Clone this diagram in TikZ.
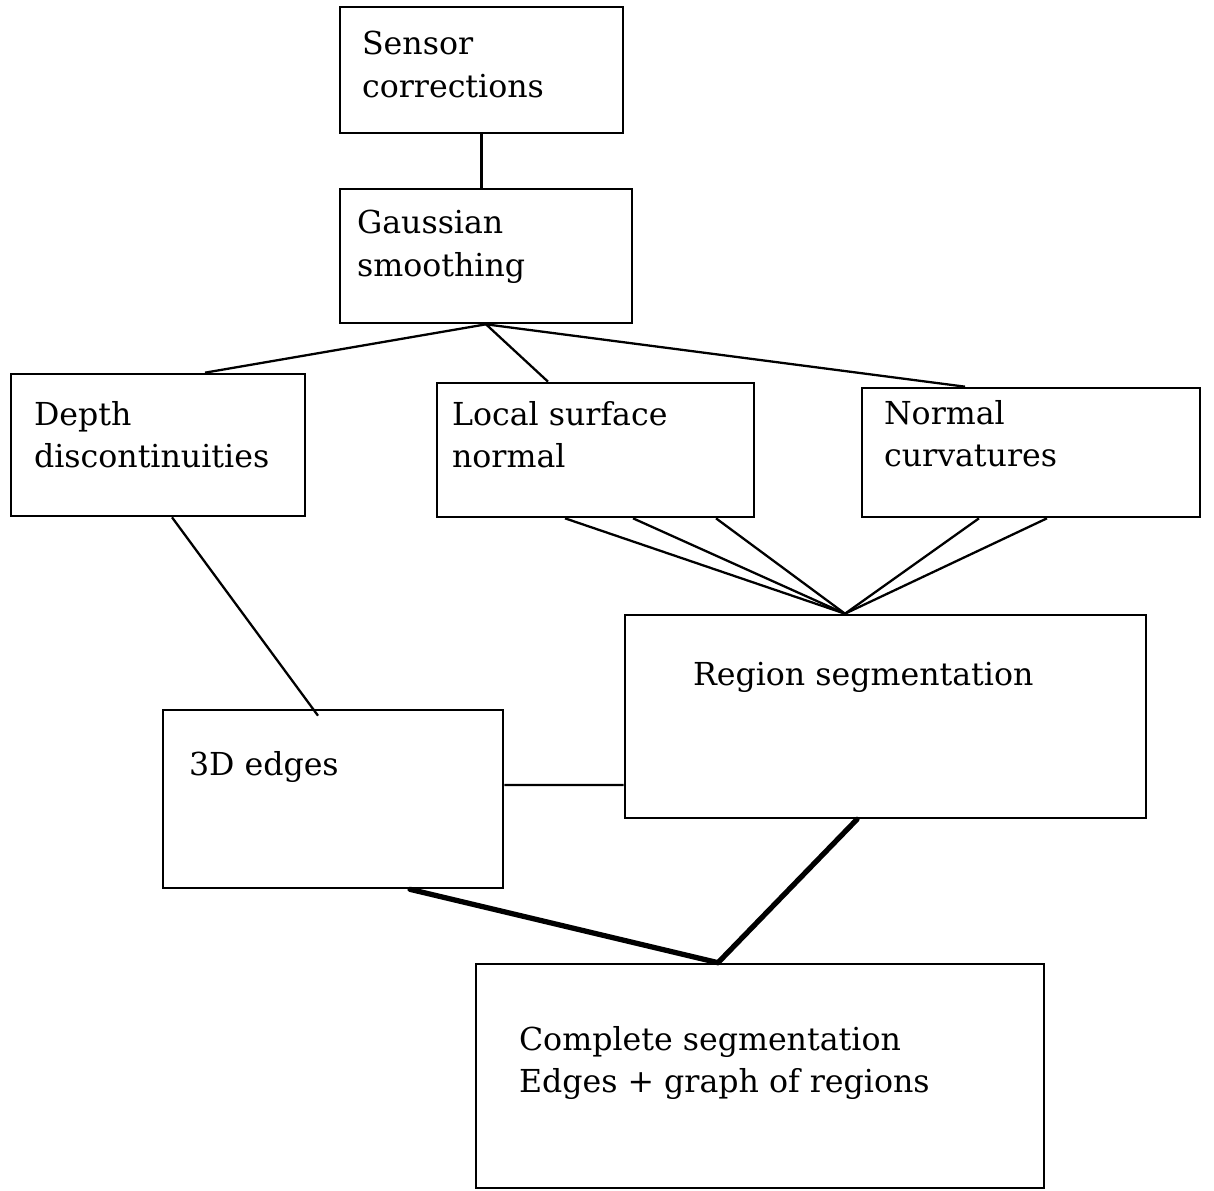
\documentclass[tikz,border=0pt]{standalone}
\usepackage{fontspec}
\setmainfont{DejaVu Serif}
\usepackage{tikz}

\begin{document}
\begin{tikzpicture}[
	blockbox/.style={shape=rectangle, draw, line width=1.5pt, inner sep=0},
	boxtext/.style={anchor=north west, inner sep=0, align=left, font=\fontsize{18}{24.4}\selectfont},
	wire/.style={line width=1.3pt},
	heavywire/.style={line width=3pt, line cap=round}]
	\useasboundingbox (0, 0) rectangle (24.28, 23.8);
	% Boxes and texts:
	\node[blockbox, minimum width=5.66cm, minimum height=2.52cm](Rect1) at (9.63, 22.40){} node[boxtext] at ([xshift=0.46cm, yshift=-0.50cm]Rect1.north west){Sensor\\corrections};
	\node[blockbox, minimum width=5.84cm, minimum height=2.68cm](Rect2) at (9.72, 18.68){} node[boxtext] at ([xshift=0.36cm, yshift=-0.44cm]Rect2.north west){Gaussian\\smoothing};
	\node[blockbox, minimum width=5.88cm, minimum height=2.84cm](Rect3) at (3.16, 14.90){} node[boxtext] at ([xshift=0.48cm, yshift=-0.56cm]Rect3.north west){Depth\\discontinuities};
	\node[blockbox, minimum width=6.34cm, minimum height=2.68cm](Rect4) at (11.91, 14.80){} node[boxtext] at ([xshift=0.32cm, yshift=-0.38cm]Rect4.north west){Local surface\\normal};
	\node[blockbox, minimum width=6.76cm, minimum height=2.58cm](Rect5) at (20.62, 14.75){} node[boxtext] at ([xshift=0.46cm, yshift=-0.26cm]Rect5.north west){Normal\\curvatures};
	\node[blockbox, minimum width=10.42cm, minimum height=4.06cm](Rect6) at (17.71, 9.47){} node[boxtext] at ([xshift=1.38cm, yshift=-0.96cm]Rect6.north west){Region segmentation};
	\node[blockbox, minimum width=6.80cm, minimum height=3.56cm](Rect7) at (6.66, 7.82){} node[boxtext] at ([xshift=0.54cm, yshift=-0.84cm]Rect7.north west){3D edges};
	\node[blockbox, minimum width=11.36cm, minimum height=4.48cm](Rect8) at (15.20, 2.28){} node[boxtext] at ([xshift=0.88cm, yshift=-1.26cm]Rect8.north west){Complete segmentation\\Edges + graph of regions};
	% Wires:
	\draw[wire] (Rect1.south) -- (Rect1.south |- Rect2.north);
	\draw[wire] ([xshift=0.94cm]Rect3.north) -- (Rect2.south) -- ([xshift=-1.32cm]Rect5.north);
	\draw[wire] (Rect2.south) -- ([xshift=-0.95cm]Rect4.north);
	\draw[wire] ([xshift=-0.61cm]Rect4.south) -- ([xshift=-0.81cm]Rect6.north);
	\draw[wire] ([xshift=0.75cm]Rect4.south) -- ([xshift=-0.81cm]Rect6.north);
	\draw[wire] ([xshift=2.41cm]Rect4.south) -- ([xshift=-0.81cm]Rect6.north);
	\draw[wire] ([xshift=-1.04cm]Rect5.south) -- ([xshift=-0.81cm]Rect6.north);
	\draw[wire] ([xshift=0.32cm]Rect5.south) -- ([xshift=-0.81cm]Rect6.north);
	\draw[wire] ([xshift=0.28cm]Rect3.south) -- ([xshift=-0.30cm, yshift=-0.14cm]Rect7.north);
	\draw[wire] ([yshift=0.28cm]Rect7.east) -- ([yshift=-1.37cm]Rect6.west);
	\draw[heavywire] ([xshift=-0.57cm]Rect6.south) -- ([xshift=-0.84cm]Rect8.north);
	\draw[heavywire] ([xshift=1.54cm]Rect7.south) -- ([xshift=-0.84cm]Rect8.north);
\end{tikzpicture}
\end{document}
